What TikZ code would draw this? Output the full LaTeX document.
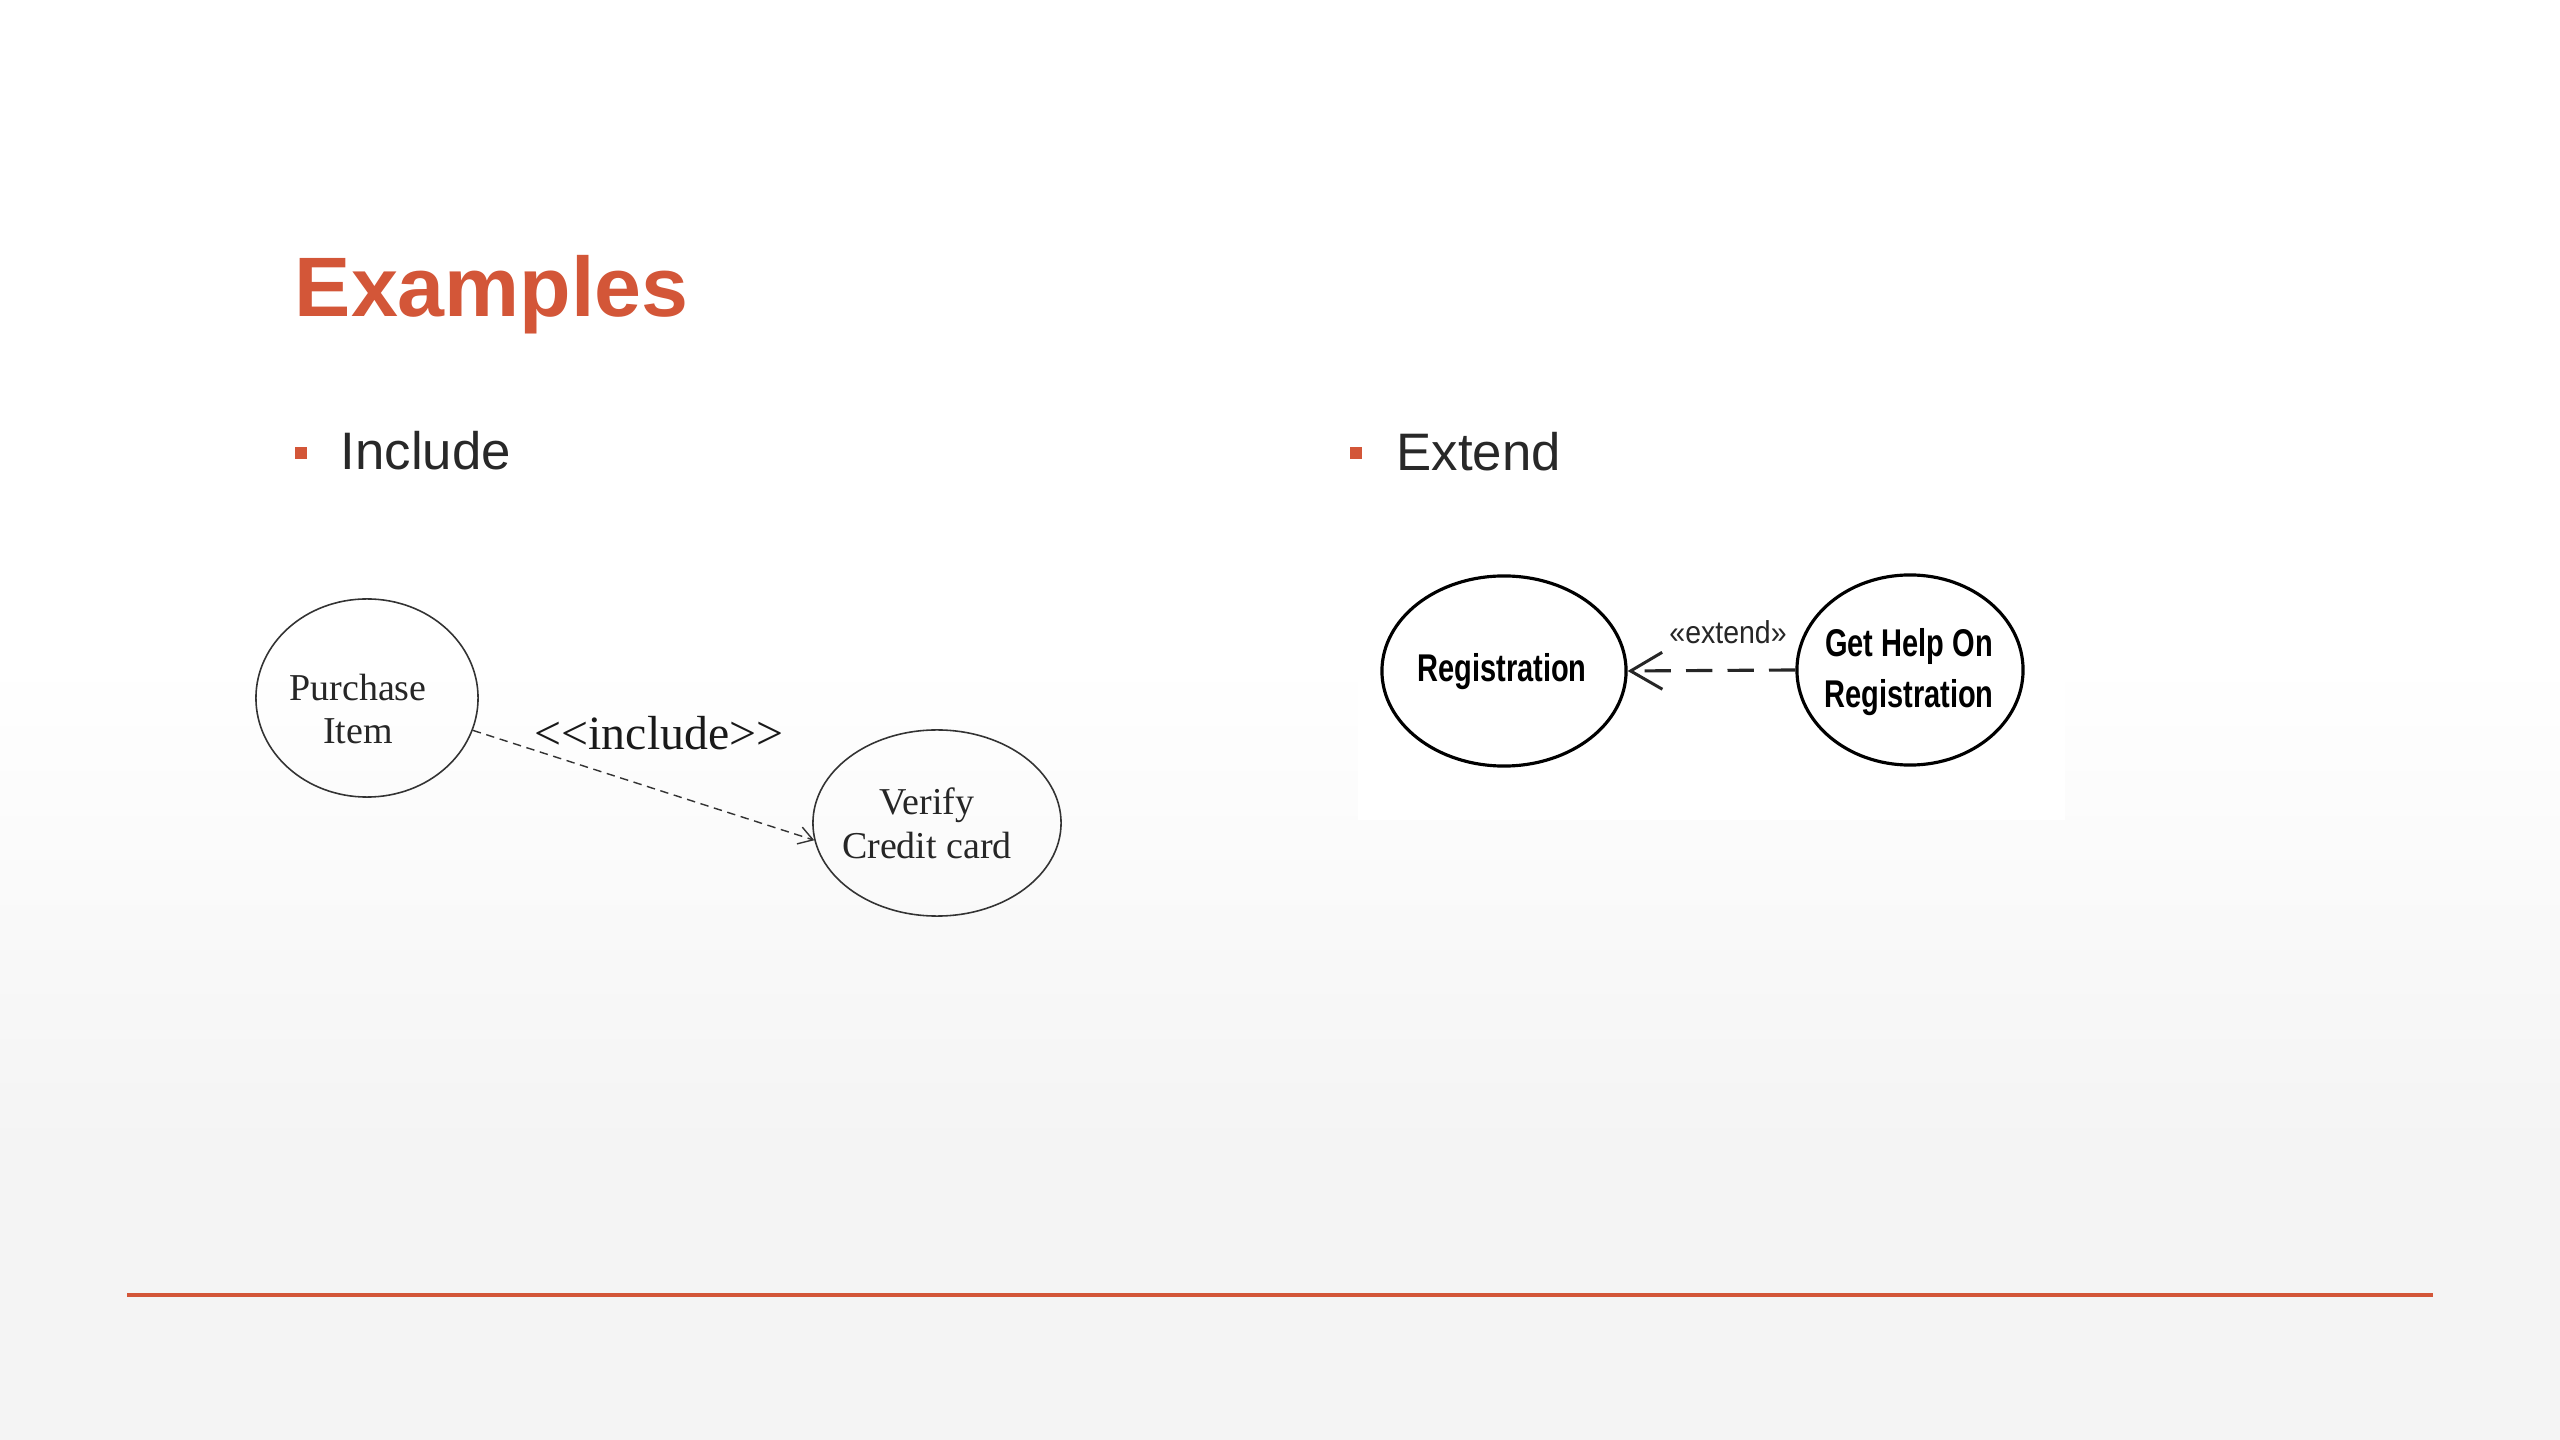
\documentclass[tikz,border=0pt]{standalone}
\usepackage{fontspec}
\usetikzlibrary{shapes.geometric,arrows.meta}
\newfontfamily\arialf{Liberation Sans}
\newfontfamily\timesf{Liberation Serif}
\newfontfamily\narrowbf[FakeStretch=0.75]{Liberation Sans}
\newfontfamily\narrowrg[FakeStretch=0.9]{Liberation Sans}
\definecolor{accent}{RGB}{211,86,56}
\definecolor{bodytxt}{RGB}{40,40,40}
\definecolor{bgbottom}{RGB}{244,244,244}
\tikzset{
  incuc/.style={ellipse, draw=black!80, line width=0.45pt, inner sep=0pt},
  inctext/.style={inner sep=0pt, align=center, font=\timesf\fontsize{10.8}{12.5}\selectfont, text=black!85},
  extuc/.style={ellipse, draw=black, line width=0.9pt, inner sep=0pt},
  exttext/.style={inner sep=0pt, align=center, font=\narrowbf\bfseries\fontsize{11}{14.5}\selectfont, text=black},
  bullettxt/.style={anchor=base west, inner sep=0pt, text=bodytxt, font=\arialf\fontsize{15}{18}\selectfont},
  bulletsq/.style={fill=accent, draw=none},
}
\begin{document}
\begin{tikzpicture}[x=0.01cm,y=-0.01cm]
\useasboundingbox (0,0) rectangle (2560,1440);
% background
\fill[white] (0,0) rectangle (2560,660);
\shade[top color=white, bottom color=bgbottom] (0,659) rectangle (2560,1150);
\fill[bgbottom] (0,1149) rectangle (2560,1440);
% white backdrop of the extend picture
\fill[white] (1358,555) rectangle (2065,820);

% title
\node[anchor=base west, inner sep=0pt, text=accent, font=\arialf\bfseries\fontsize{24}{29}\selectfont] (title) at (294,317) {Examples};

% bullets
\fill[bulletsq] (295,447) rectangle (307,459);
\node[bullettxt] (inc) at (340,470) {Include};
\fill[bulletsq] (1350,447) rectangle (1362,459);
\node[bullettxt] (ext) at (1396,471) {Extend};

% include diagram
\node[incuc, minimum width=2.22cm, minimum height=1.98cm] (pi) at (367,698) {};
\node[inctext] (pitxt) at ([shift={(-9,11)}]pi.center) {Purchase\\Item};
\node[incuc, minimum width=2.48cm, minimum height=1.86cm] (vc) at (937,823) {};
\node[inctext] (vctxt) at ([shift={(-10,0)}]vc.center) {Verify\\Credit card};
\draw[black!80, line width=0.4pt, dash pattern=on 2.4pt off 1.6pt,
      -{Straight Barb[length=4pt,width=5pt]}] (pi.-17) -- (vc.188);
\node[inner sep=0pt, text=black!90, font=\timesf\fontsize{13.6}{16}\selectfont] (inclbl) at (659,733) {<\kern0pt<include>\kern0pt>};

% extend diagram
\node[extuc, minimum width=2.44cm, minimum height=1.90cm] (reg) at (1504,671) {};
\node[exttext] (regtxt) at ([shift={(-2,1)}]reg.center) {Registration};
\node[extuc, minimum width=2.26cm, minimum height=1.90cm] (geh) at (1910,670) {};
\node[exttext] (gehtxt) at ([shift={(-1,2)}]geh.center) {Get Help On\\Registration};
\draw[black!85, line width=0.9pt, dash pattern=on 7.5pt off 4.3pt,
      -{Straight Barb[length=9pt,width=10.5pt,line width=0.85pt]}] (geh.west) -- (reg.east);
\node[inner sep=0pt, text=black!85, font=\narrowrg\fontsize{9}{11}\selectfont] (extlbl) at (1728,632) {«extend»};

% footer rule
\coordinate (fl) at (127,1295);
\coordinate (fr) at (2433,1295);
\draw[accent, line width=1.1pt] (fl) -- (fr);
\end{tikzpicture}
\end{document}
